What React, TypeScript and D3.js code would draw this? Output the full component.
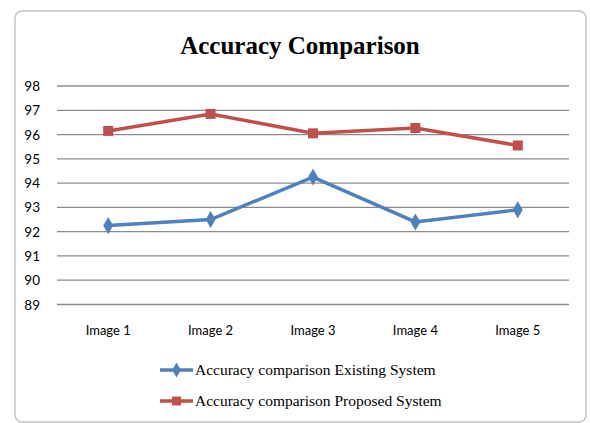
import { useEffect, useRef } from "react";
import * as d3 from "d3";

const categories = ["Image 1", "Image 2", "Image 3", "Image 4", "Image 5"];
const existing = [92.25, 92.5, 94.25, 92.4, 92.9];
const proposed = [96.15, 96.85, 96.05, 96.27, 95.55];
const yTicks = [89, 90, 91, 92, 93, 94, 95, 96, 97, 98];
const seriesNames = ["Accuracy comparison Existing System", "Accuracy comparison Proposed System"];

export default function App() {
  const svgRef = useRef<SVGSVGElement>(null);

  useEffect(() => {
    const svg = d3.select(svgRef.current);
    svg.selectAll("*").remove();
    const width = 590, height = 423;

    // chart frame
    svg.append("rect").attr("x", 15).attr("y", 11).attr("width", 571).attr("height", 411)
      .attr("rx", 7).attr("fill", "#fff").attr("stroke", "#c4c4c4").attr("stroke-width", 1.5);

    svg.append("text").attr("x", 300).attr("y", 54).attr("text-anchor", "middle")
      .style("font-family", "'Liberation Serif', serif").style("font-weight", "bold")
      .style("font-size", "25px").attr("fill", "#000").text("Accuracy Comparison");

    const x = d3.scalePoint().domain(categories).range([57, 569]).padding(0.5);
    const y = d3.scaleLinear().domain([89, 98]).range([304.5, 86]);

    const grid = svg.append("g");
    grid.selectAll("line").data(yTicks).enter().append("line")
      .attr("x1", 57).attr("x2", 569)
      .attr("y1", d => y(d)).attr("y2", d => y(d))
      .attr("stroke", "#8c8c8c").attr("stroke-width", 1.3);

    svg.append("g").selectAll("text").data(yTicks).enter().append("text")
      .attr("x", 40).attr("y", d => y(d) + 5).attr("text-anchor", "end")
      .style("font-family", "Lato, sans-serif").style("font-size", "13.5px").attr("fill", "#000")
      .text(d => d);

    svg.append("g").selectAll("text").data(categories).enter().append("text")
      .attr("x", d => x(d)!).attr("y", 335).attr("text-anchor", "middle")
      .style("font-family", "Lato, sans-serif").style("font-size", "13px").attr("fill", "#000")
      .text(d => d);

    const line = d3.line<number>().x((_, i) => x(categories[i])!).y(d => y(d));
    const colors = ["#4F81BD", "#C0504D"];
    const series = [existing, proposed];

    const diamond = d3.symbol().type(d3.symbolDiamond).size(85);
    const square = d3.symbol().type(d3.symbolSquare).size(100);

    series.forEach((vals, s) => {
      svg.append("path").datum(vals).attr("d", line).attr("fill", "none")
        .attr("stroke", colors[s]).attr("stroke-width", 3.5);
      svg.append("g").selectAll("path").data(vals).enter().append("path")
        .attr("transform", (d, i) => `translate(${x(categories[i])},${y(d)})`)
        .attr("d", s === 0 ? diamond() : square()).attr("fill", colors[s]);
    });

    // legend
    const legend = svg.append("g");
    [370, 401].forEach((ly, s) => {
      legend.append("line").attr("x1", 160).attr("x2", 193).attr("y1", ly).attr("y2", ly)
        .attr("stroke", colors[s]).attr("stroke-width", 3.5);
      legend.append("path").attr("transform", `translate(176.5,${ly})`)
        .attr("d", s === 0 ? d3.symbol().type(d3.symbolDiamond).size(65)() : d3.symbol().type(d3.symbolSquare).size(80)())
        .attr("fill", colors[s]);
      legend.append("text").attr("x", 195).attr("y", ly + 5)
        .style("font-family", "'Liberation Serif', serif").style("font-size", "15.5px").attr("fill", "#000")
        .text(seriesNames[s]);
    });

    svg.attr("width", width).attr("height", height);
  }, []);

  return (
    <svg ref={svgRef} width={590} height={423}
      style={{ position: "absolute", left: 0, top: 0, background: "#fff" }} />
  );
}
